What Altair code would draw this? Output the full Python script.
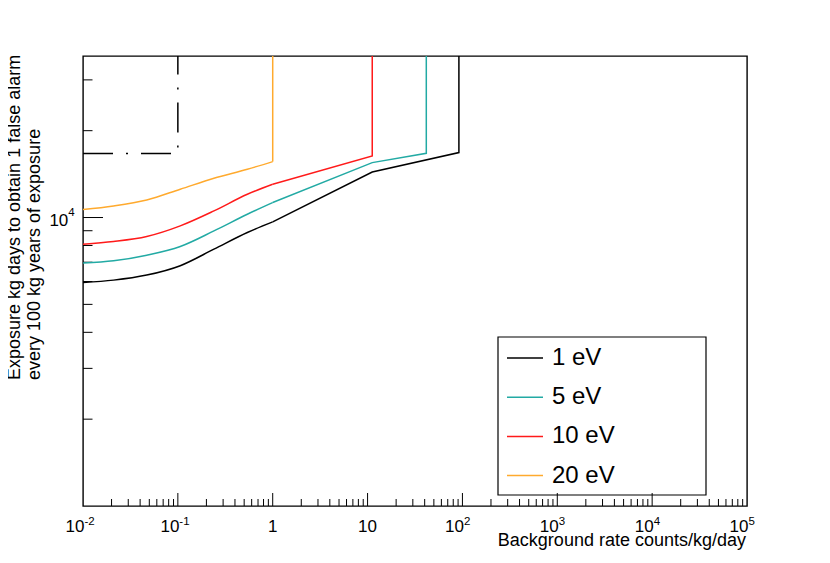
import altair as alt
import pandas as pd

# ---------------- data ----------------
series_names = ["1 eV", "5 eV", "10 eV", "20 eV"]
series_colors = ["#000000", "#22aaa4", "#ff1a1a", "#ffaa2e"]

Y_TOP = 36300  # upper edge of the y axis

x_1ev = [0.01, 0.021, 0.047, 0.106, 0.24, 0.54, 1.0, 11.2, 91.8, 91.8]
y_1ev = [5957, 6067, 6316, 6808, 7768, 8872, 9656, 14380, 16790, Y_TOP]

x_5ev = [0.01, 0.021, 0.047, 0.106, 0.24, 0.54, 1.0, 11.2, 41.6, 41.6]
y_5ev = [6950, 7080, 7405, 7937, 8987, 10266, 11270, 15500, 16697, Y_TOP]

x_10ev = [0.01, 0.021, 0.047, 0.106, 0.24, 0.54, 1.0, 11.2, 11.2]
y_10ev = [8084, 8260, 8595, 9354, 10540, 12039, 13040, 16340, Y_TOP]

x_20ev = [0.01, 0.021, 0.047, 0.106, 0.24, 0.54, 1.0, 1.0]
y_20ev = [10660, 10970, 11505, 12530, 13677, 14695, 15625, Y_TOP]

x_dash = [0.01, 0.1, 0.1]
y_dash = [16655, 16655, Y_TOP]

x_major_ticks = [0.1, 1, 10, 100, 1000, 10000]
x_minor_ticks = [m * 10.0 ** e for e in range(-2, 5) for m in range(2, 10)]
y_major_ticks = [10000]
y_minor_ticks = [2000, 3000, 4000, 5000, 6000, 7000, 8000, 9000, 20000, 30000]

x_label_vals = [0.01, 0.1, 1, 10, 100, 1000, 10000, 100000]
x_label_base = ["10", "10", "1", "10", "10", "10", "10", "10"]
x_label_exp = ["-2", "-1", "", "", "2", "3", "4", "5"]

y_label_vals = [10000]
y_label_base = ["10"]
y_label_exp = ["4"]

x_title = "Background rate counts/kg/day"
y_title_1 = "Exposure kg days to obtain 1 false alarm"
y_title_2 = "every 100 kg years of exposure"

# ---------------- tables ----------------
N_SMOOTH = 7  # points with x <= 1 form the smooth part of each curve
smooth_rows, straight_rows = [], []
for name, xs_, ys_ in zip(series_names, [x_1ev, x_5ev, x_10ev, x_20ev], [y_1ev, y_5ev, y_10ev, y_20ev]):
    for i, (a, b) in enumerate(zip(xs_, ys_)):
        if i < N_SMOOTH:
            smooth_rows.append({"series": name, "x": a, "y": b, "idx": i})
        if i >= N_SMOOTH - 1:
            straight_rows.append({"series": name, "x": a, "y": b, "idx": i})
smooth_df = pd.DataFrame(smooth_rows)
straight_df = pd.DataFrame(straight_rows)
dash_df = pd.DataFrame({"x": x_dash, "y": y_dash, "idx": list(range(len(x_dash)))})

xmaj = pd.DataFrame({"x": x_major_ticks})
xmin = pd.DataFrame({"x": x_minor_ticks})
ymaj = pd.DataFrame({"y": y_major_ticks})
ymin = pd.DataFrame({"y": y_minor_ticks})

xlab = pd.DataFrame({"x": x_label_vals, "base": x_label_base, "exp": x_label_exp})
xlab_pow = xlab[xlab["exp"] != ""]
xlab_plain = xlab[xlab["exp"] == ""]
ylab = pd.DataFrame({"y": y_label_vals, "base": y_label_base, "exp": y_label_exp})

FONT = "Liberation Sans"
W, H = 664, 450

xs = alt.Scale(type="log", domain=[0.01, 100000], nice=False)
ys = alt.Scale(type="log", domain=[1000, Y_TOP], nice=False)
X = lambda: alt.X("x:Q", scale=xs, axis=None)
Y = lambda: alt.Y("y:Q", scale=ys, axis=None)

one = pd.DataFrame({"k": [0]})

frame = alt.Chart(one).mark_rect(fill="white", stroke="black", strokeWidth=1.2).encode(
    x=alt.value(415), x2=alt.value(623), y=alt.value(281), y2=alt.value(439)
)

tick_style = dict(color="black", strokeWidth=1)
xmaj_r = alt.Chart(xmaj).mark_rule(**tick_style).encode(x=X(), y=alt.value(H - 13), y2=alt.value(H))
xmin_r = alt.Chart(xmin).mark_rule(**tick_style).encode(x=X(), y=alt.value(H - 7), y2=alt.value(H))
ymaj_r = alt.Chart(ymaj).mark_rule(**tick_style).encode(y=Y(), x=alt.value(0), x2=alt.value(20))
ymin_r = alt.Chart(ymin).mark_rule(**tick_style).encode(y=Y(), x=alt.value(0), x2=alt.value(9.5))

color_enc = alt.Color(
    "series:N",
    scale=alt.Scale(domain=series_names, range=series_colors),
    sort=series_names,
    legend=alt.Legend(
        orient="none",
        legendX=423,
        legendY=283,
        title=None,
        symbolType="stroke",
        symbolSize=1296,
        symbolStrokeWidth=1.5,
        labelFontSize=24,
        labelFont=FONT,
        labelColor="black",
        labelOffset=8,
        rowPadding=8.2,
        padding=0,
    ),
)

smooth = alt.Chart(smooth_df).mark_line(strokeWidth=1.5, clip=True, interpolate="monotone").encode(
    x=X(), y=Y(), color=color_enc, order=alt.Order("idx:Q")
)
straight = alt.Chart(straight_df).mark_line(strokeWidth=1.5, clip=True).encode(
    x=X(), y=Y(), color=color_enc, order=alt.Order("idx:Q")
)

dashed = alt.Chart(dash_df).mark_line(
    color="black", strokeWidth=1.5, strokeDash=[30, 13, 2, 13], clip=True
).encode(x=X(), y=Y(), order=alt.Order("idx:Q"))

txt = dict(font=FONT, color="black")
xl_base_pow = alt.Chart(xlab_pow).mark_text(fontSize=17, align="right", baseline="alphabetic", dx=1.5, **txt).encode(
    x=X(), y=alt.value(H + 26), text="base:N"
)
xl_exp = alt.Chart(xlab_pow).mark_text(fontSize=11.5, align="left", baseline="alphabetic", dx=1.5, **txt).encode(
    x=X(), y=alt.value(H + 19), text="exp:N"
)
xl_plain = alt.Chart(xlab_plain).mark_text(fontSize=17, align="center", baseline="alphabetic", **txt).encode(
    x=X(), y=alt.value(H + 26), text="base:N"
)
yl_base = alt.Chart(ylab).mark_text(fontSize=17, align="right", baseline="alphabetic", dx=-14.7, dy=8.4, **txt).encode(
    y=Y(), x=alt.value(0), text="base:N"
)
yl_exp = alt.Chart(ylab).mark_text(fontSize=11.5, align="left", baseline="alphabetic", dx=-14.7, dy=-1.3, **txt).encode(
    y=Y(), x=alt.value(0), text="exp:N"
)

xt = alt.Chart(one).mark_text(fontSize=18, align="right", baseline="alphabetic", text=x_title, **txt).encode(
    x=alt.value(W - 1), y=alt.value(H + 40)
)
yt1 = alt.Chart(one).mark_text(fontSize=18, align="left", baseline="alphabetic", angle=270, text=y_title_1, **txt).encode(
    x=alt.value(-63), y=alt.value(324)
)
yt2 = alt.Chart(one).mark_text(fontSize=18, align="left", baseline="alphabetic", angle=270, text=y_title_2, **txt).encode(
    x=alt.value(-43.5), y=alt.value(324)
)

chart = alt.layer(
    frame, xmaj_r, xmin_r, ymaj_r, ymin_r, smooth, straight, dashed,
    xl_base_pow, xl_exp, xl_plain, yl_base, yl_exp, xt, yt1, yt2
).properties(
    width=W,
    height=H,
    padding={"left": 75, "top": 48, "right": 75, "bottom": 49},
    autosize=alt.AutoSizeParams(type="none"),
    background="white",
).configure_view(stroke="black", strokeWidth=1.4)

chart.save("out.html", embed_options={"renderer": "svg", "actions": False})
